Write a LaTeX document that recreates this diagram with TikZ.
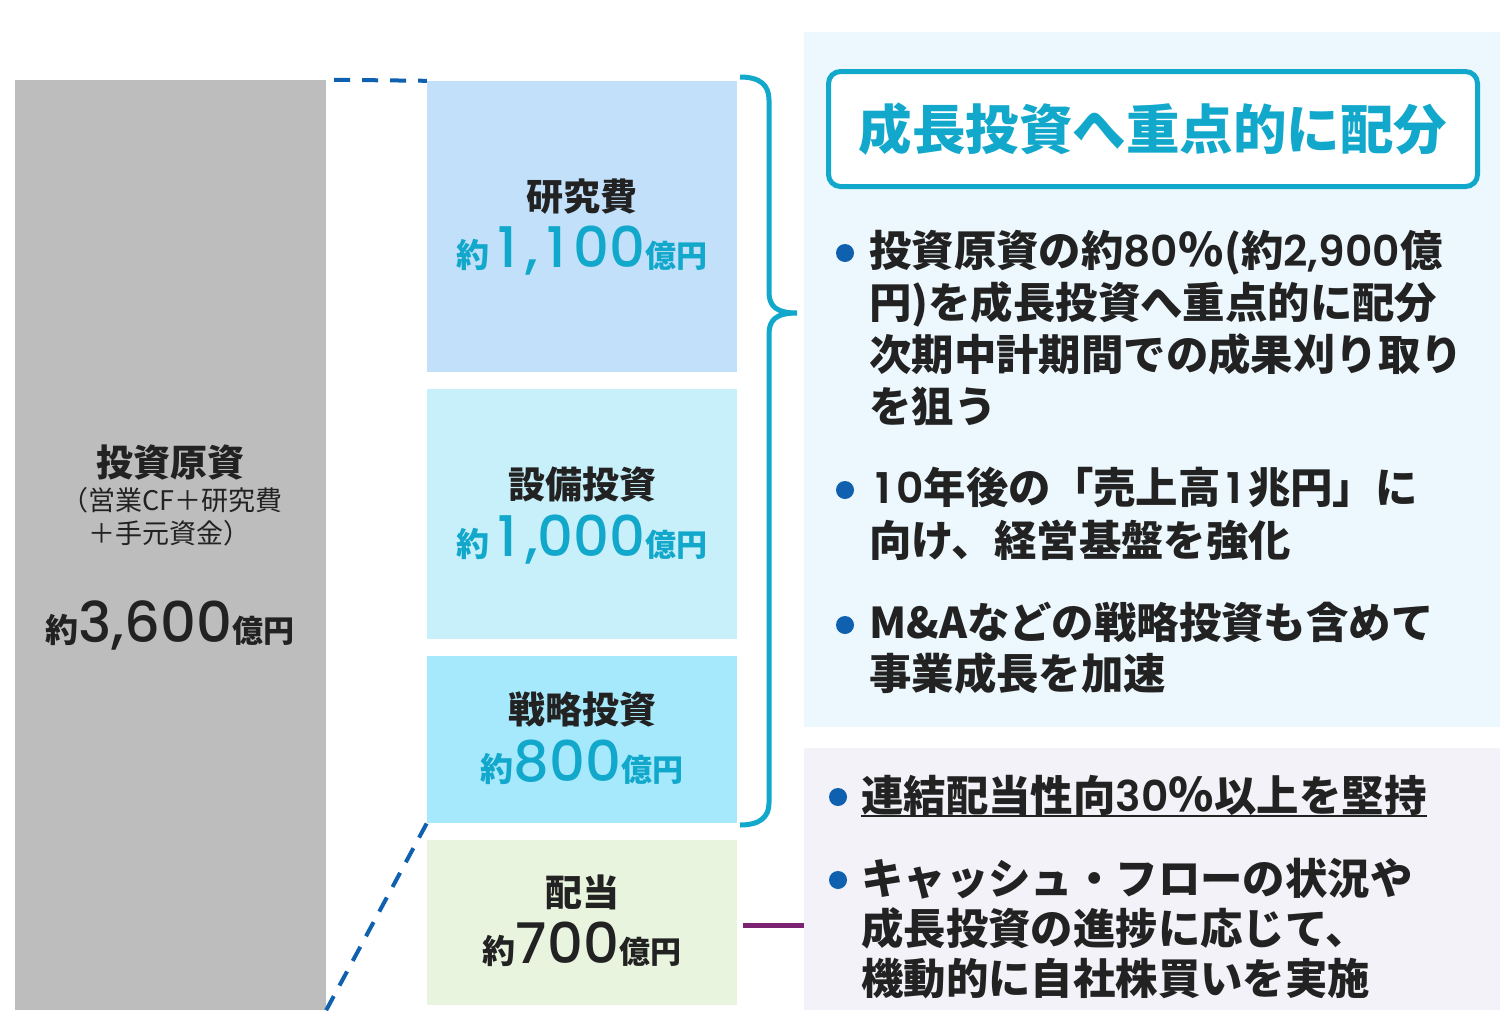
\documentclass[tikz,border=0pt]{standalone}
\usepackage{fontspec}
\setmainfont{Noto Sans CJK JP}
\newfontfamily\numfont{Poppins Medium}
\newfontfamily\bnum{Poppins SemiBold}
\definecolor{greybox}{HTML}{BDBDBD}
\definecolor{cA}{HTML}{C2E0FA}
\definecolor{cB}{HTML}{C8F0FA}
\definecolor{cC}{HTML}{A6E8FC}
\definecolor{cD}{HTML}{E9F4DE}
\definecolor{panelA}{HTML}{ECF8FD}
\definecolor{panelB}{HTML}{F2F2F8}
\definecolor{cy}{HTML}{12A8CB}
\definecolor{bl}{HTML}{1060B0}
\definecolor{pu}{HTML}{7B2270}
\definecolor{tx}{HTML}{222222}
\newcommand\one{\setbox0\hbox{0}\hbox to\wd0{\hss1\hss}}
\newcommand\amtline[1]{{\fontsize{33}{33}\selectfont 約}{\numfont\mdseries\fontsize{56}{56}\selectfont #1}{\fontsize{31}{31}\selectfont 億円}}
\newcommand\dg[1]{{\bnum\mdseries #1}}
\newcommand\pct{\hbox to 46pt{\hss{\fontsize{46}{52}\selectfont\%}\hss}}
\begin{document}
\begin{tikzpicture}[x=1pt,y=-1pt,
  box/.style={inner sep=0pt, minimum width=310pt, draw=none},
  lab/.style={inner sep=0pt, text=tx, font=\bfseries\fontsize{37}{40}\selectfont, anchor=base},
  amt/.style={inner sep=0pt, font=\bfseries, anchor=base},
  para/.style={inner sep=0pt, text=tx, font=\bfseries\fontsize{42.4}{52}\selectfont, anchor=base west},
  dot/.style={fill=bl},
  dashline/.style={draw=bl, line width=4pt, dash pattern=on 16pt off 12pt}]
\useasboundingbox (0,0) rectangle (1503,1010);
\fill[white] (0,0) rectangle (1503,1010);
% panels
\node[inner sep=0pt, fill=panelA, minimum width=696pt, minimum height=695pt] (pa) at (1152,379.5) {};
\node[inner sep=0pt, fill=panelB, minimum width=696pt, minimum height=262pt] (pb) at (1152,879) {};
% boxes
\node[box, fill=greybox, minimum width=311pt, minimum height=930pt] (src) at (170.5,545) {};
\node[box, fill=cA, minimum height=291pt] (rd) at (582,226.5) {};
\node[box, fill=cB, minimum height=250pt] (cap) at (582,514) {};
\node[box, fill=cC, minimum height=167pt] (st) at (582,739.5) {};
\node[box, fill=cD, minimum height=165pt] (div) at (582,922.5) {};
% dashed connectors
\draw[dashline] ([xshift=8pt]src.north east) -- (rd.north west);
\draw[dashline] (src.south east) -- (st.south west);
% purple connector
\coordinate (pstart) at ([xshift=6pt,yshift=-2.5pt]div.east);
\draw[pu, line width=5pt] (pstart) -- (pstart -| pb.west);
% brace
\draw[cy, line width=5pt] (740,77) .. controls (760,77) and (769,85) .. (769,100) -- (769,292)
  .. controls (769,306) and (776,313) .. (797,313)
  .. controls (776,313) and (769,320) .. (769,334) -- (769,803)
  .. controls (769,817) and (760,825) .. (740,825);
% left box text
\node[lab] (g1) at (170,476) {投資原資};
\node[inner sep=0pt, text=tx, font=\fontsize{27}{30}\selectfont, anchor=base west] (g2) at (61,510) {（営業CF＋研究費};
\node[inner sep=0pt, text=tx, font=\fontsize{27}{30}\selectfont, anchor=base west] (g3) at (88,543) {＋手元資金）};
\node[amt, text=tx] (g4) at (170,642) {\amtline{3,600}};
% box labels
\node[lab] (l1) at (582,210) {研究費};
\node[amt, text=cy] (a1) at (582,267) {\amtline{\one,\one00}};
\node[lab] (l2) at (582,498) {設備投資};
\node[amt, text=cy] (a2) at (582,556) {\amtline{\one,000}};
\node[lab] (l3) at (582,723) {戦略投資};
\node[amt, text=cy] (a3) at (582,781) {\amtline{800}};
\node[lab] (l4) at (582,906) {配当};
\node[amt, text=tx] (a4) at (582,963) {\amtline{700}};
% title
\node[draw=cy, line width=5pt, rounded corners=12pt, fill=white, minimum width=649pt, minimum height=115pt, inner sep=0pt, text=cy, font=\bfseries\fontsize{53.5}{56}\selectfont] (title) at (1153,129) {成長投資へ重点的に配分};
% bullets top
\fill[dot] (845,253) circle (9pt);
\node[para] (p1a) at (869,266) {投資原資の約\dg{80}\pct(約\dg{2,900}億};
\node[para] (p1b) at (869,318) {円)を成長投資へ重点的に配分};
\node[para] (p1c) at (869,370) {次期中計期間での成果刈り取り};
\node[para] (p1d) at (869,422) {を狙う};
\fill[dot] (845,490) circle (9pt);
\node[para] (p2a) at (869,503) {\dg{\one0}年後の「売上高\dg{\one}兆円」に};
\node[para] (p2b) at (869,556) {向け、経営基盤を強化};
\fill[dot] (845,625) circle (9pt);
\node[para] (p3a) at (869,638) {M\&Aなどの戦略投資も含めて};
\node[para] (p3b) at (869,689) {事業成長を加速};
% bullets bottom
\fill[dot] (838,797) circle (9pt);
\node[para] (q1) at (861,811) {連結配当性向\dg{30}\pct 以上を堅持};
\draw[tx, line width=2.5pt] ([yshift=-5pt]q1.base west) -- ([yshift=-5pt]q1.base east);
\fill[dot] (838,880) circle (9pt);
\node[para] (q2a) at (861,894) {キャッシュ・フローの状況や};
\node[para] (q2b) at (861,944) {成長投資の進捗に応じて、};
\node[para] (q2c) at (861,994) {機動的に自社株買いを実施};
\end{tikzpicture}
\end{document}
